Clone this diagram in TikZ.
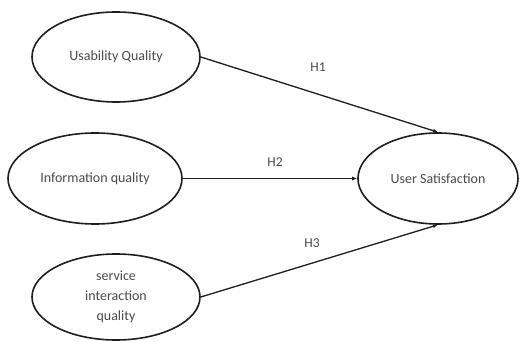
\documentclass[tikz,border=0pt]{standalone}
\usepackage{fontspec}
\setmainfont{Carlito}
\usetikzlibrary{shapes.geometric,arrows.meta}
\definecolor{txtgray}{HTML}{4A4A4A}
\definecolor{inkline}{HTML}{1E1E1E}
\begin{document}
\begin{tikzpicture}[x=1pt,y=-1pt,
  construct/.style={ellipse, draw=inkline, line width=1.6pt, inner sep=0pt,
    text=txtgray, align=center, font=\fontsize{14}{20}\selectfont},
  conn/.style={draw=inkline, line width=1.3pt, -{Latex[length=5pt,width=4pt]}},
  hyp/.style={text=txtgray, font=\fontsize{13.5}{16}\selectfont, inner sep=0pt}]
  \useasboundingbox[fill=white] (0,0) rectangle (520,342);
  % exogenous constructs
  \node[construct, minimum width=168pt, minimum height=90pt] (uq) at (116,57) {Usability Quality};
  \node[construct, minimum width=174pt, minimum height=91pt] (iq) at (95,178.5) {Information quality};
  \node[construct, minimum width=168pt, minimum height=86pt] (siq) at (116,297) {service\\interaction\\quality};
  % endogenous construct
  \node[construct, minimum width=160pt, minimum height=91pt] (us) at (438,178.5) {User Satisfaction};
  % hypothesised paths
  \draw[conn] (uq.east) -- (us.north);
  \draw[conn] (iq.east) -- (us.west);
  \draw[conn] (siq.east) -- (us.south);
  \node[hyp] (h1) at (318,67) {H1};
  \node[hyp] (h2) at (275,162) {H2};
  \node[hyp] (h3) at (312,243) {H3};
\end{tikzpicture}
\end{document}
